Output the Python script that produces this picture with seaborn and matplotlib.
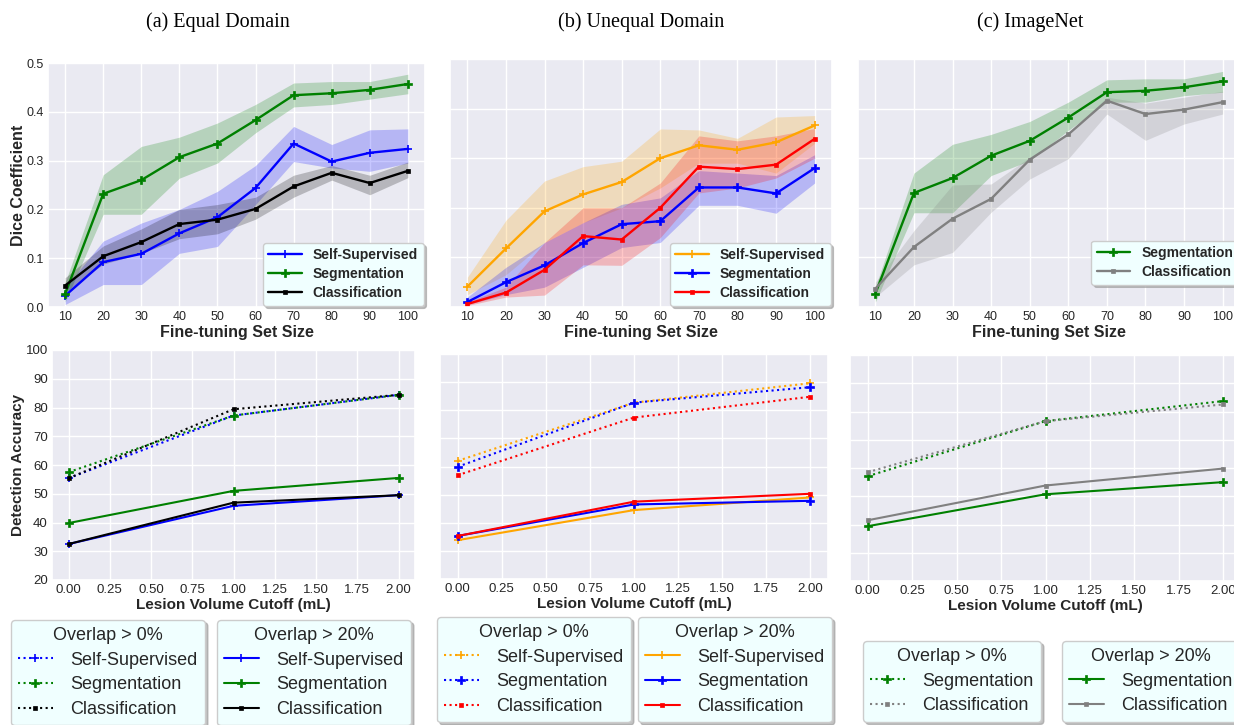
import numpy as np
import pandas as pd
import matplotlib
matplotlib.use("Agg")
import matplotlib.pyplot as plt
import seaborn as sns

# ---------------- data ----------------
sizes = [10, 20, 30, 40, 50, 60, 70, 80, 90, 100]

a_ss = [0.023, 0.092, 0.109, 0.151, 0.184, 0.244, 0.335, 0.298, 0.316, 0.324]
a_ss_lo = [0.005, 0.046, 0.046, 0.110, 0.124, 0.210, 0.298, 0.285, 0.278, 0.295]
a_ss_hi = [0.040, 0.135, 0.172, 0.200, 0.237, 0.290, 0.370, 0.333, 0.363, 0.365]
a_seg = [0.027, 0.232, 0.260, 0.307, 0.335, 0.383, 0.434, 0.438, 0.445, 0.457]
a_seg_lo = [0.010, 0.190, 0.190, 0.264, 0.295, 0.357, 0.410, 0.415, 0.426, 0.437]
a_seg_hi = [0.050, 0.271, 0.329, 0.348, 0.377, 0.415, 0.459, 0.462, 0.462, 0.477]
a_cls = [0.044, 0.104, 0.133, 0.170, 0.179, 0.201, 0.247, 0.275, 0.254, 0.279]
a_cls_lo = [0.030, 0.088, 0.110, 0.140, 0.150, 0.180, 0.225, 0.260, 0.230, 0.265]
a_cls_hi = [0.060, 0.125, 0.160, 0.200, 0.210, 0.225, 0.270, 0.290, 0.270, 0.297]

b_ss = [0.041, 0.118, 0.193, 0.227, 0.252, 0.300, 0.326, 0.317, 0.332, 0.366]
b_ss_lo = [0.025, 0.065, 0.130, 0.170, 0.200, 0.240, 0.290, 0.290, 0.270, 0.330]
b_ss_hi = [0.060, 0.175, 0.254, 0.283, 0.294, 0.359, 0.357, 0.340, 0.383, 0.386]
b_seg = [0.010, 0.050, 0.084, 0.129, 0.167, 0.173, 0.241, 0.241, 0.229, 0.280]
b_seg_lo = [0.005, 0.025, 0.040, 0.080, 0.120, 0.130, 0.205, 0.205, 0.189, 0.250]
b_seg_hi = [0.020, 0.080, 0.130, 0.170, 0.207, 0.220, 0.275, 0.270, 0.265, 0.307]
b_cls = [0.006, 0.029, 0.075, 0.143, 0.136, 0.200, 0.283, 0.278, 0.287, 0.339]
b_cls_lo = [0.003, 0.020, 0.024, 0.085, 0.084, 0.140, 0.230, 0.240, 0.260, 0.300]
b_cls_hi = [0.010, 0.040, 0.130, 0.200, 0.200, 0.250, 0.345, 0.335, 0.345, 0.360]

c_seg = [0.027, 0.230, 0.260, 0.305, 0.335, 0.382, 0.433, 0.436, 0.443, 0.455]
c_seg_lo = [0.010, 0.190, 0.190, 0.265, 0.295, 0.356, 0.413, 0.413, 0.426, 0.433]
c_seg_hi = [0.040, 0.270, 0.328, 0.348, 0.374, 0.413, 0.458, 0.460, 0.460, 0.475]
c_cls = [0.037, 0.121, 0.178, 0.218, 0.297, 0.348, 0.416, 0.389, 0.398, 0.413]
c_cls_lo = [0.020, 0.085, 0.110, 0.191, 0.258, 0.299, 0.389, 0.336, 0.369, 0.389]
c_cls_hi = [0.050, 0.154, 0.246, 0.248, 0.302, 0.350, 0.423, 0.411, 0.423, 0.435]

cutoffs = [0.0, 1.0, 2.0]
a_ss_0 = [55.4, 77.2, 84.4]
a_seg_0 = [57.5, 77.2, 84.4]
a_cls_0 = [55.4, 79.4, 84.4]
a_ss_20 = [32.5, 45.8, 49.5]
a_seg_20 = [39.8, 51.0, 55.5]
a_cls_20 = [32.5, 46.9, 49.5]
b_ss_0 = [62.0, 82.7, 89.6]
b_seg_0 = [59.9, 82.7, 88.2]
b_cls_0 = [56.9, 77.4, 84.8]
b_ss_20 = [33.8, 44.5, 49.0]
b_seg_20 = [35.3, 46.5, 47.8]
b_cls_20 = [35.3, 47.5, 50.3]
c_seg_0 = [57.1, 76.6, 83.7]
c_cls_0 = [58.5, 76.6, 82.5]
c_seg_20 = [39.4, 50.7, 55.0]
c_cls_20 = [41.5, 53.8, 59.8]

titles = ["(a) Equal Domain", "(b) Unequal Domain", "(c) ImageNet"]
lab_ss, lab_seg, lab_cls = "Self-Supervised", "Segmentation", "Classification"

# ---------------- style ----------------
sns.set_theme(style="darkgrid")
plt.rcParams["font.family"] = ["Liberation Sans", "DejaVu Sans"]

W, H = 1234, 725
fig = plt.figure(figsize=(W / 100, H / 100), dpi=100)


def rect(l, r, t, b):
    return [l / W, 1 - b / H, (r - l) / W, (b - t) / H]


ax_ta = fig.add_axes(rect(48, 425, 63, 307))
ax_tb = fig.add_axes(rect(450, 832, 59, 307))
ax_tc = fig.add_axes(rect(858, 1240, 59, 307))
ax_ba = fig.add_axes(rect(52, 415, 350, 580))
ax_bb = fig.add_axes(rect(440, 828, 354, 579))
ax_bc = fig.add_axes(rect(850, 1241, 355, 581))

STY = {
    lab_ss: dict(marker="+", markersize=6, mew=1.2),
    lab_seg: dict(marker="P", markersize=5.5, mew=0.5),
    lab_cls: dict(marker="s", markersize=2.5, mew=0.5),
}

leg_face = "#f0ffff"
shadow = {"color": "0.6", "alpha": 0.6, "ox": 2, "oy": -2}


def series(ax, x, y, color, lab, ls="-", lw=1.6):
    sns.lineplot(x=x, y=y, ax=ax, color=color, linestyle=ls, linewidth=lw,
                 markeredgecolor=color, markerfacecolor=color, **STY[lab])
    return ax.lines[-1]


def band(ax, x, lo, hi, color, alpha=0.22):
    ax.fill_between(x, lo, hi, color=color, alpha=alpha, linewidth=0)


top_specs = [
    (ax_ta, [(a_ss, a_ss_lo, a_ss_hi, "blue", lab_ss),
             (a_seg, a_seg_lo, a_seg_hi, "green", lab_seg),
             (a_cls, a_cls_lo, a_cls_hi, "black", lab_cls)], (1.0, 0.0)),
    (ax_tb, [(b_ss, b_ss_lo, b_ss_hi, "orange", lab_ss),
             (b_seg, b_seg_lo, b_seg_hi, "blue", lab_seg),
             (b_cls, b_cls_lo, b_cls_hi, "red", lab_cls)], (1.0, 0.0)),
    (ax_tc, [(c_seg, c_seg_lo, c_seg_hi, "green", lab_seg),
             (c_cls, c_cls_lo, c_cls_hi, "gray", lab_cls)], (1.0, 0.085)),
]

for i, (ax, specs, anchor) in enumerate(top_specs):
    handles, labels = [], []
    for y, lo, hi, col, lab in specs:
        band(ax, sizes, lo, hi, col)
    for y, lo, hi, col, lab in specs:
        h = series(ax, sizes, y, col, lab, lw=1.7)
        handles.append(h)
        labels.append(lab)
    ax.set_ylim(0, 0.5)
    ax.set_yticks([0.0, 0.1, 0.2, 0.3, 0.4, 0.5])
    ax.set_xticks(sizes)
    ax.tick_params(labelsize=9, length=0, pad=3)
    ax.set_xlabel("Fine-tuning Set Size", fontsize=11.5, fontweight="bold", labelpad=1)
    if i == 0:
        ax.set_ylabel("Dice Coefficient", fontsize=11.5, fontweight="bold")
        ax.yaxis.set_label_coords(-0.058, 0.5)
        ax.set_yticklabels(["0.0", "0.1", "0.2", "0.3", "0.4", "0.5"])
    else:
        ax.set_ylabel("")
        ax.set_yticklabels([])
    ax.legend(handles, labels, loc="lower right", bbox_to_anchor=anchor,
              borderaxespad=0.1, prop={"weight": "bold", "size": 10},
              facecolor=leg_face, edgecolor="0.8", framealpha=1,
              handlelength=2.4, labelspacing=0.35, shadow=shadow)

bottom_specs = [
    (ax_ba, [(a_ss_0, a_ss_20, "blue", lab_ss),
             (a_seg_0, a_seg_20, "green", lab_seg),
             (a_cls_0, a_cls_20, "black", lab_cls)], (11, 620), (217, 620)),
    (ax_bb, [(b_ss_0, b_ss_20, "orange", lab_ss),
             (b_seg_0, b_seg_20, "blue", lab_seg),
             (b_cls_0, b_cls_20, "red", lab_cls)], (437, 617), (638, 617)),
    (ax_bc, [(c_seg_0, c_seg_20, "green", lab_seg),
             (c_cls_0, c_cls_20, "gray", lab_cls)], (863, 641), (1062, 641)),
]

for i, (ax, specs, p0, p20) in enumerate(bottom_specs):
    h0, h20, labs = [], [], []
    for y0, y20, col, lab in specs:
        h0.append(series(ax, cutoffs, y0, col, lab, ls=":", lw=1.5))
    for y0, y20, col, lab in specs:
        h20.append(series(ax, cutoffs, y20, col, lab, ls="-", lw=1.5))
        labs.append(lab)
    ax.set_ylim(20, 100)
    ax.set_yticks(range(20, 101, 10))
    ax.set_xticks([0, 0.25, 0.5, 0.75, 1.0, 1.25, 1.5, 1.75, 2.0])
    ax.set_xticklabels(["0.00", "0.25", "0.50", "0.75", "1.00", "1.25", "1.50", "1.75", "2.00"])
    ax.tick_params(labelsize=9.5, length=0, pad=3)
    ax.set_xlabel("Lesion Volume Cutoff (mL)", fontsize=11, fontweight="bold", labelpad=1)
    if i == 0:
        ax.set_ylabel("Detection Accuracy", fontsize=11, fontweight="bold")
        ax.yaxis.set_label_coords(-0.074, 0.5)
    else:
        ax.set_ylabel("")
        ax.set_yticklabels([])
    for hs, title, pos in [(h0, "Overlap > 0%", p0), (h20, "Overlap > 20%", p20)]:
        fig.legend(hs, labs, title=title, loc="upper left",
                   bbox_to_anchor=(pos[0] / W, 1 - pos[1] / H), borderaxespad=0,
                   fontsize=13, title_fontsize=13, facecolor=leg_face,
                   edgecolor="0.8", framealpha=1, handlelength=1.9,
                   handletextpad=1.0, labelspacing=0.42, shadow=shadow)

for t, cx in zip(titles, [218, 641, 1030]):
    fig.text(cx / W, 1 - 22 / H, t, ha="center", va="center", fontsize=14.5,
             family=["Liberation Serif", "DejaVu Serif"], color="black")

fig.savefig("out.png", dpi=100)
